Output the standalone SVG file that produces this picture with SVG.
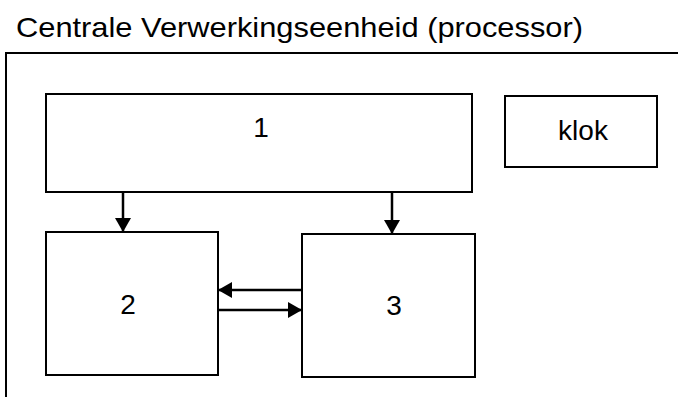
<svg xmlns="http://www.w3.org/2000/svg" width="678" height="397" viewBox="0 0 678 397">
  <defs>
    <style>
      .box { fill: #ffffff; stroke: #000000; stroke-width: 2; }
      .frame { fill: none; stroke: #000000; stroke-width: 2; }
      .lbl { font-family: "Liberation Sans", Arial, sans-serif; font-size: 28px; fill: #000000; }
      .mid { text-anchor: middle; }
      .wire { stroke: #000000; stroke-width: 2.5; fill: none; marker-end: url(#arrow); }
    </style>
    <marker id="arrow" viewBox="0 0 14 16" refX="14" refY="8" markerWidth="14" markerHeight="16" markerUnits="userSpaceOnUse" orient="auto">
      <path d="M0,0 L14,8 L0,16 Z" fill="#000000"/>
    </marker>
  </defs>

  <rect width="678" height="397" fill="#ffffff"/>

  <!-- processor frame with title -->
  <g id="processor">
    <text class="lbl" x="16" y="37" textLength="567" lengthAdjust="spacingAndGlyphs">Centrale Verwerkingseenheid (processor)</text>
    <path class="frame" d="M6,398 L6,53 L679,53"/>
  </g>

  <g id="node1">
    <rect class="box" x="46" y="94" width="426" height="98"/>
    <text class="lbl mid" x="261" y="137">1</text>
  </g>

  <g id="klok">
    <rect class="box" x="505" y="96" width="152" height="71"/>
    <text class="lbl mid" x="583" y="140">klok</text>
  </g>

  <g id="node2">
    <rect class="box" x="46" y="232" width="172" height="143"/>
    <text class="lbl mid" x="128" y="314">2</text>
  </g>

  <g id="node3">
    <rect class="box" x="302" y="234" width="173" height="143"/>
    <text class="lbl mid" x="394" y="315">3</text>
  </g>

  <g id="connectors">
    <line class="wire" x1="123" y1="192" x2="123" y2="232"/>
    <line class="wire" x1="392" y1="192" x2="392" y2="234"/>
    <line class="wire" x1="302" y1="290" x2="218" y2="290"/>
    <line class="wire" x1="218" y1="310" x2="302" y2="310"/>
  </g>
</svg>
